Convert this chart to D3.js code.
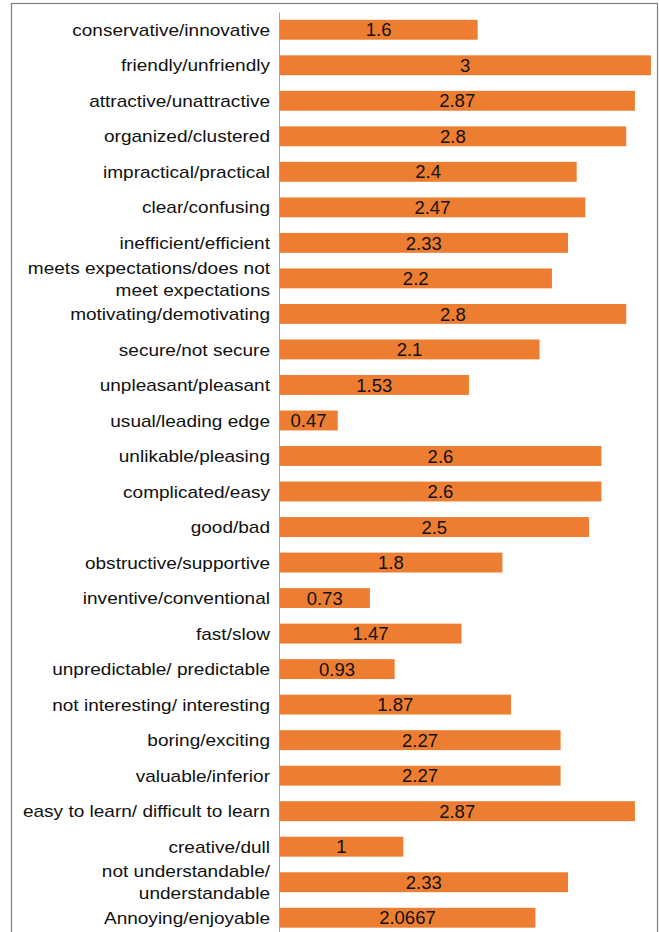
<!DOCTYPE html>
<html><head><meta charset="utf-8">
<script src="https://cdn.jsdelivr.net/npm/d3@7"></script>
<style>body{margin:0;background:#fff}svg{display:block}</style>
</head><body>
<script>
const categories = [
  "conservative/innovative","friendly/unfriendly","attractive/unattractive","organized/clustered",
  "impractical/practical","clear/confusing","inefficient/efficient",
  "meets expectations/does not|meet expectations","motivating/demotivating","secure/not secure",
  "unpleasant/pleasant","usual/leading edge","unlikable/pleasing","complicated/easy","good/bad",
  "obstructive/supportive","inventive/conventional","fast/slow","unpredictable/ predictable",
  "not interesting/ interesting","boring/exciting","valuable/inferior",
  "easy to learn/ difficult to learn","creative/dull","not understandable/|understandable",
  "Annoying/enjoyable"
];
const values = [1.6,3,2.87,2.8,2.4,2.47,2.33,2.2,2.8,2.1,1.53,0.47,2.6,2.6,2.5,1.8,0.73,1.47,0.93,1.87,2.27,2.27,2.87,1,2.33,2.0667];
const valueLabels = ["1.6","3","2.87","2.8","2.4","2.47","2.33","2.2","2.8","2.1","1.53","0.47","2.6","2.6","2.5","1.8","0.73","1.47","0.93","1.87","2.27","2.27","2.87","1","2.33","2.0667"];

const W = 659, H = 932;
const svg = d3.select("body").append("svg").attr("width", W).attr("height", H);
svg.append("rect").attr("x",11.5).attr("y",3.5).attr("width",646).attr("height",H+10)
  .attr("fill","none").attr("stroke","#7f7f7f").attr("stroke-width",1.2);

const x = d3.scaleLinear().domain([0,3]).range([279.5,651]);
const y = d3.scaleBand().domain(d3.range(categories.length)).range([12,935.5]).paddingInner(0.44).paddingOuter(0.22);

const g = svg.append("g");
g.selectAll("rect.bar").data(values).join("rect").attr("class","bar")
  .attr("x", x(0)).attr("y",(d,i)=>y(i)).attr("width",d=>x(d)-x(0)).attr("height",y.bandwidth())
  .attr("fill","#ED7D31");

g.append("line").attr("x1",279.5).attr("x2",279.5).attr("y1",12.5).attr("y2",H)
  .attr("stroke","#a6a6a6").attr("stroke-width",1);

const font = "'Liberation Sans', Arial, sans-serif";
g.selectAll("text.val").data(values).join("text").attr("class","val")
  .attr("x",d=>(x(0)+x(d))/2).attr("y",(d,i)=>y(i)+y.bandwidth()/2)
  .attr("dy","0.36em").attr("text-anchor","middle").attr("font-family",font).attr("font-size",18.5)
  .attr("fill","#111").text((d,i)=>valueLabels[i]);

const lg = g.append("g").attr("transform","translate(270,0) scale(1.12,1)");
const lab = lg.selectAll("text.lab").data(categories).join("text").attr("class","lab")
  .attr("text-anchor","end").attr("font-family",font).attr("font-size",17).attr("fill","#111");
lab.each(function(c,i){
  const lines = c.split("|");
  const cy = y(i)+y.bandwidth()/2;
  const lh = 22;
  const t = d3.select(this);
  lines.forEach((l,k)=>{
    t.append("tspan").attr("x",0).attr("y", cy + (k-(lines.length-1)/2)*lh).attr("dy","0.36em").text(l);
  });
});
</script>
</body></html>
